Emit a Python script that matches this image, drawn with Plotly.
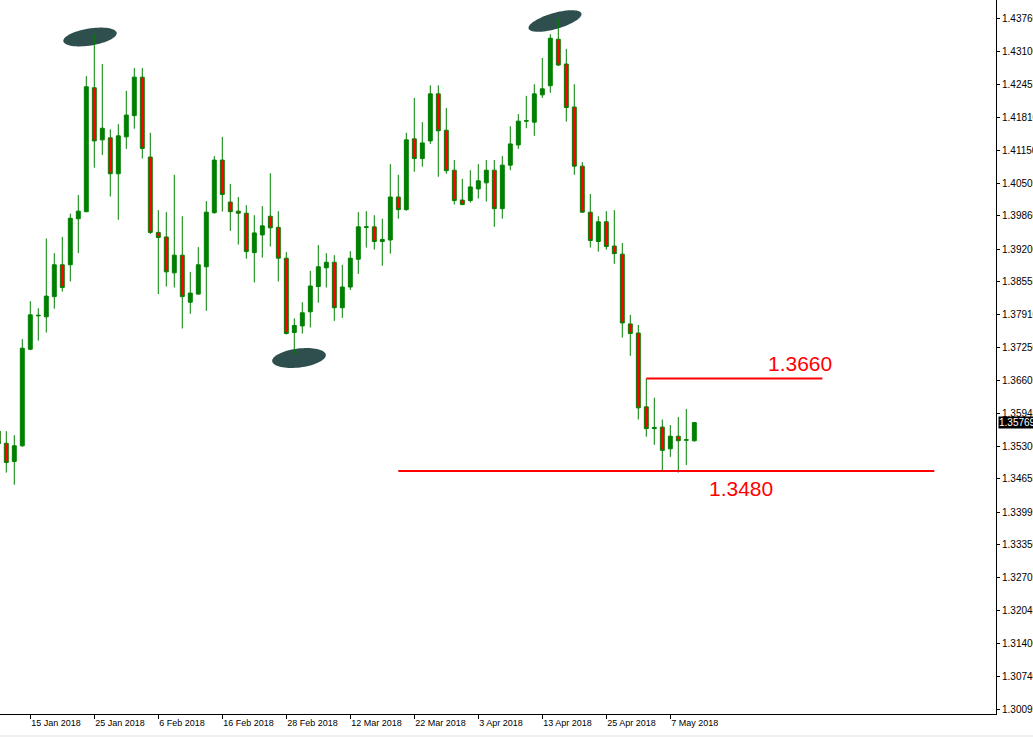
import numpy as np
import pandas as pd
import plotly.graph_objects as go

# ---------------- data ----------------
dates = list(pd.bdate_range("2018-01-09", "2018-05-10").strftime("%Y-%m-%d"))

open_ = [
    1.3560, 1.3536, 1.3500, 1.3531, 1.3722, 1.3788, 1.3786, 1.3826, 1.3889, 1.3889,
    1.3980, 1.3994, 1.4239, 1.4136, 1.4140, 1.4069, 1.4142, 1.4184, 1.4260, 1.4102,
    1.3953, 1.3944, 1.3873, 1.3908, 1.3815, 1.3831, 1.3885, 1.3992, 1.4096, 1.4013,
    1.3995, 1.3991, 1.3913, 1.3948, 1.3985, 1.3963, 1.3902, 1.3755, 1.3768, 1.3796,
    1.3846, 1.3883, 1.3894, 1.3804, 1.3845, 1.3900, 1.3963, 1.3964, 1.3935, 1.3938,
    1.4023, 1.3998, 1.4138, 1.4099, 1.4134, 1.4227, 1.4155, 1.4076, 1.4017, 1.4016,
    1.4039, 1.4051, 1.4076, 1.4000, 1.4086, 1.4126, 1.4173, 1.4171, 1.4225, 1.4243,
    1.4335, 1.4286, 1.4201, 1.4084, 1.3993, 1.3935, 1.3974, 1.3926, 1.3910, 1.3772,
    1.3754, 1.3608, 1.3565, 1.3568, 1.3525, 1.3550, 1.3542, 1.3541]

high = [
    1.3590, 1.3560, 1.3552, 1.3742, 1.3817, 1.3803, 1.3941, 1.3912, 1.3944, 1.3990,
    1.4027, 1.4262, 1.4345, 1.4286, 1.4157, 1.4167, 1.4233, 1.4278, 1.4278, 1.4150,
    1.3997, 1.3993, 1.4067, 1.3985, 1.3875, 1.3924, 1.4015, 1.4104, 1.4142, 1.4049,
    1.4023, 1.4007, 1.3987, 1.4005, 1.4070, 1.3995, 1.3914, 1.3783, 1.3815, 1.3877,
    1.3928, 1.3912, 1.3908, 1.3889, 1.3916, 1.3993, 1.3995, 1.3987, 1.3980, 1.4088,
    1.4067, 1.4150, 1.4219, 1.4171, 1.4244, 1.4244, 1.4199, 1.4096, 1.4059, 1.4076,
    1.4088, 1.4096, 1.4096, 1.4104, 1.4163, 1.4187, 1.4223, 1.4246, 1.4298, 1.4345,
    1.4377, 1.4316, 1.4246, 1.4092, 1.4029, 1.3985, 1.3995, 1.3997, 1.3932, 1.3790,
    1.3770, 1.3664, 1.3626, 1.3583, 1.3572, 1.3588, 1.3604, 1.35775]

low = [
    1.3525, 1.3478, 1.3454, 1.3529, 1.3720, 1.3739, 1.3755, 1.3802, 1.3836, 1.3856,
    1.3912, 1.3993, 1.4081, 1.4106, 1.4024, 1.3978, 1.4118, 1.4158, 1.4099, 1.3950,
    1.3831, 1.3846, 1.3844, 1.3763, 1.3792, 1.3830, 1.3798, 1.3990, 1.3994, 1.3956,
    1.3929, 1.3901, 1.3854, 1.3903, 1.3925, 1.3856, 1.3751, 1.3711, 1.3753, 1.3765,
    1.3814, 1.3844, 1.3778, 1.3784, 1.3839, 1.3871, 1.3923, 1.3919, 1.3887, 1.3911,
    1.3980, 1.3996, 1.4073, 1.4083, 1.4128, 1.4063, 1.4069, 1.4008, 1.4007, 1.4012,
    1.4020, 1.4014, 1.3964, 1.3980, 1.4076, 1.4118, 1.4159, 1.4144, 1.4219, 1.4229,
    1.4282, 1.4172, 1.4067, 1.3992, 1.3923, 1.3915, 1.3919, 1.3891, 1.3745, 1.3709,
    1.3583, 1.3549, 1.3533, 1.3480, 1.3509, 1.3478, 1.3493, 1.3539]

close = [
    1.3535, 1.3498, 1.3531, 1.3724, 1.3790, 1.3789, 1.3827, 1.3889, 1.3844, 1.3981,
    1.3995, 1.4241, 1.4134, 1.4159, 1.4069, 1.4144, 1.4185, 1.4260, 1.4119, 1.3953,
    1.3943, 1.3875, 1.3908, 1.3826, 1.3833, 1.3889, 1.3993, 1.4096, 1.4028, 1.3994,
    1.3991, 1.3915, 1.3952, 1.3966, 1.3962, 1.3902, 1.3753, 1.3769, 1.3794, 1.3847,
    1.3885, 1.3894, 1.3804, 1.3845, 1.3902, 1.3964, 1.3964, 1.3935, 1.3939, 1.4023,
    1.3998, 1.4136, 1.4099, 1.4130, 1.4227, 1.4154, 1.4075, 1.4016, 1.4008, 1.4043,
    1.4055, 1.4076, 1.4000, 1.4086, 1.4128, 1.4173, 1.4174, 1.4227, 1.4237, 1.4337,
    1.4284, 1.4200, 1.4084, 1.3993, 1.3937, 1.3974, 1.3925, 1.3911, 1.3774, 1.3753,
    1.3606, 1.3565, 1.3567, 1.3522, 1.3550, 1.3541, 1.3543, 1.35769]

x_tick_dates = ["2018-01-15", "2018-01-25", "2018-02-06", "2018-02-16", "2018-02-28",
                "2018-03-12", "2018-03-22", "2018-04-03", "2018-04-13", "2018-04-25",
                "2018-05-07"]
x_tick_labels = ["15 Jan 2018", "25 Jan 2018", "6 Feb 2018", "16 Feb 2018", "28 Feb 2018",
                 "12 Mar 2018", "22 Mar 2018", "3 Apr 2018", "13 Apr 2018", "25 Apr 2018",
                 "7 May 2018"]

y_tick_labels = ["1.43760", "1.43100", "1.42455", "1.41810", "1.41150", "1.40505",
                 "1.39860", "1.39200", "1.38555", "1.37910", "1.37250", "1.36605",
                 "1.35945", "1.35300", "1.34655", "1.33995", "1.33350", "1.32705",
                 "1.32045", "1.31400", "1.30740", "1.30095"]
y_tick_vals = [float(s) for s in y_tick_labels]

resistance_level = 1.3664
support_level = 1.3481
resistance_text = "1.3660"
support_text = "1.3480"

# ---------------- figure ----------------
W, H = 1033, 737
ML, MR, MT, MB = 0, 37, 0, 23
PW, PH = W - ML - MR, H - MT - MB

GREEN = "#008000"
RED = "#FF0000"

fig = go.Figure()
fig.add_trace(go.Candlestick(
    x=dates, open=open_, high=high, low=low, close=close,
    increasing=dict(line=dict(color=GREEN, width=1), fillcolor=GREEN),
    decreasing=dict(line=dict(color=GREEN, width=1), fillcolor=RED),
    whiskerwidth=0, showlegend=False, hoverinfo="skip",
))


def ellipse_path(cx, cy, a, b, ang_deg, n=72):
    t = np.linspace(0, 2 * np.pi, n, endpoint=False)
    ang = np.deg2rad(ang_deg)
    xs = cx + a * np.cos(t) * np.cos(ang) - b * np.sin(t) * np.sin(ang)
    ys = cy + a * np.cos(t) * np.sin(ang) + b * np.sin(t) * np.cos(ang)
    pts = [(x / PW, 1 - y / PH) for x, y in zip(xs, ys)]
    return "M " + " L ".join(f"{px:.5f},{py:.5f}" for px, py in pts) + " Z"


shapes = []
for (cx, cy, a, b, ang) in [(90, 37, 27, 8.5, -9), (555, 21, 27.5, 8, -16), (299, 358, 27, 9.5, -7)]:
    shapes.append(dict(type="path", xref="paper", yref="paper", path=ellipse_path(cx, cy, a, b, ang),
                       fillcolor="#2F4F4F", line=dict(width=0), layer="below"))

shapes.append(dict(type="line", xref="x", yref="y", x0=81, x1=103,
                   y0=resistance_level, y1=resistance_level, line=dict(color=RED, width=2)))
shapes.append(dict(type="line", xref="x", yref="y", x0=50, x1=117,
                   y0=support_level, y1=support_level, line=dict(color=RED, width=2)))
# status strip at the bottom of the window
shapes.append(dict(type="rect", xref="paper", yref="paper", x0=0, x1=W / PW,
                   y0=-(H - PH - 2) / PH, y1=-(H - PH + 10) / PH,
                   fillcolor="#F0F0F0", line=dict(width=0), layer="below"))

annotations = [
    dict(text=resistance_text, xref="paper", yref="paper", x=766 / PW, y=1 - 363 / PH,
         xanchor="left", yanchor="middle", showarrow=False,
         font=dict(family="Liberation Sans, Arial", size=21, color=RED)),
    dict(text=support_text, xref="paper", yref="paper", x=706.5 / PW, y=1 - 488.5 / PH,
         xanchor="left", yanchor="middle", showarrow=False,
         font=dict(family="Liberation Sans, Arial", size=21, color=RED)),
    dict(text=f"{close[-1]:.5f}", xref="paper", yref="y", x=1, y=close[-1],
         xanchor="left", yanchor="middle", xshift=2, showarrow=False,
         bgcolor="black", borderpad=0,
         font=dict(family="Liberation Sans, Arial", size=10, color="white")),
]

fig.update_layout(
    width=W, height=H, autosize=False,
    margin=dict(l=ML, r=MR, t=MT, b=MB, pad=0, autoexpand=False),
    paper_bgcolor="white", plot_bgcolor="white",
    showlegend=False, shapes=shapes, annotations=annotations,
    xaxis=dict(
        type="category", range=[0.2125, 124.71], rangeslider=dict(visible=False),
        tickmode="array", tickvals=x_tick_dates, ticktext=x_tick_labels,
        ticks="outside", ticklen=4, tickcolor="black", tickwidth=1,
        ticklabelposition="outside right", automargin=False,
        showline=True, linecolor="black", linewidth=1, showgrid=False, zeroline=False,
        tickfont=dict(family="Liberation Sans, Arial", size=9, color="black"),
    ),
    yaxis=dict(
        side="right", range=[1.30006, 1.44126], automargin=False,
        tickmode="array", tickvals=y_tick_vals, ticktext=y_tick_labels,
        ticks="outside", ticklen=3, tickcolor="black", tickwidth=1,
        showline=True, linecolor="black", linewidth=1, showgrid=False, zeroline=False,
        tickfont=dict(family="Liberation Sans, Arial", size=10, color="black"),
    ),
)

fig.write_html("out.html", config={"displayModeBar": False},
               post_script="document.body.style.margin='0';document.body.style.overflow='hidden';")
